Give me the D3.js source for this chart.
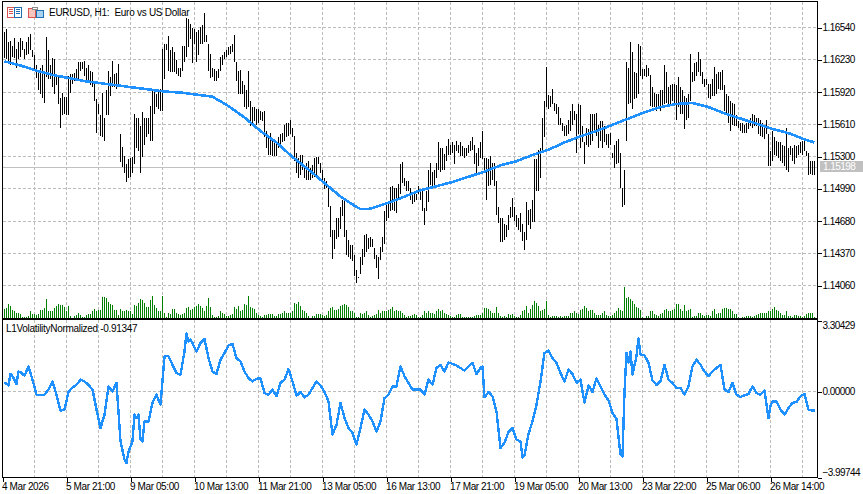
<!DOCTYPE html>
<html><head><meta charset="utf-8">
<style>
html,body{margin:0;padding:0;background:#fff}
svg{display:block}
text{font-family:"Liberation Sans",Arial,sans-serif;font-size:10px;fill:#000;white-space:pre}
.axis path,.axis line{stroke:#000;shape-rendering:crispEdges}
</style>
<script src="https://cdn.jsdelivr.net/npm/d3@7/dist/d3.min.js"></script>
</head><body><div id="c"></div>
<script>
// Prices in 1/10000 units
const priceTicks=[11654,11623,11592,11561,11530,11499,11468,11437,11406];
const lastPrice=1.15198;
const chartTitle="EURUSD, H1:  Euro vs US Dollar";
const indicatorTitle="L1VolatilityNormalized -0.91347";
const timeLabels=["4 Mar 2026","5 Mar 21:00","9 Mar 05:00","10 Mar 13:00","11 Mar 21:00","13 Mar 05:00","16 Mar 13:00","17 Mar 21:00","19 Mar 05:00","20 Mar 13:00","23 Mar 22:00","25 Mar 06:00","26 Mar 14:00"];
const timeTickBars=[-1,31,63,95,127,159,191,223,255,287,319,351,383];
const highsA=[11649,11652,11640,11641,11636,11643,11633,11640,11643,11641,11633,11640,11644,11647,11632,11627,11617,11611,11615,11617,11609,11644,11632,11617,11624,11623,11607,11607,11586,11591,11587,11587,11607,11609,11609,11610,11614,11620,11620,11620,11621,11615,11617,11612,11611,11599,11585,11580,11569,11591,11567,11593,11612,11606,11621,11609,11610,11618,11551,11539,11530,11522,11527,11528,11529,11570,11567,11567,11559,11572,11567,11567,11567,11578,11593,11594,11590,11594,11594,11633,11638,11638,11645,11632,11635,11630,11622,11615,11615,11636,11636,11663,11662,11657,11653,11652,11649,11651,11654,11656,11667,11646,11638,11628,11615,11614,11612,11614,11625,11627,11630,11632,11635,11636,11638,11646,11620,11612,11613,11602,11598,11593,11612,11583,11577,11577,11575,11575,11573,11572,11573,11554,11548,11552,11544,11544,11544,11548,11551,11552,11560,11562,11562];
const lowsA=[11624,11623,11619,11617,11625,11624,11615,11623,11625,11632,11623,11627,11628,11632,11625,11614,11605,11593,11590,11586,11581,11606,11604,11604,11596,11590,11598,11580,11557,11569,11570,11569,11569,11591,11599,11602,11602,11602,11612,11614,11607,11602,11602,11598,11596,11583,11552,11570,11549,11548,11544,11569,11569,11588,11596,11596,11594,11596,11524,11519,11514,11505,11509,11510,11514,11522,11538,11535,11514,11529,11541,11548,11551,11544,11544,11570,11577,11575,11573,11573,11604,11632,11612,11611,11611,11611,11609,11607,11606,11612,11620,11625,11635,11642,11619,11638,11620,11627,11638,11638,11640,11640,11612,11605,11606,11602,11602,11605,11612,11617,11623,11625,11627,11628,11630,11620,11602,11590,11590,11590,11577,11575,11577,11559,11560,11564,11560,11562,11565,11564,11548,11538,11531,11531,11530,11530,11530,11538,11541,11543,11544,11548,11549];
const highsB=[11565,11557,11549,11533,11528,11531,11531,11520,11523,11525,11518,11521,11528,11529,11529,11523,11517,11509,11506,11501,11482,11459,11459,11470,11470,11481,11488,11488,11459,11449,11444,11444,11435,11420,11414,11433,11441,11454,11455,11451,11452,11450,11442,11435,11433,11443,11452,11477,11483,11485,11500,11501,11499,11499,11503,11522,11524,11509,11506,11506,11499,11494,11493,11493,11501,11498,11498,11480,11496,11517,11523,11515,11517,11523,11543,11538,11538,11532,11540,11546,11541,11543,11541,11544,11541,11543,11540,11538,11538,11541,11544,11548,11541,11533,11538,11543,11554,11528,11528,11527,11530,11523,11523,11506,11481,11470,11470,11465,11464,11473,11481,11490,11481,11473,11470,11475,11465,11457,11486,11478,11479,11488,11527,11527,11536,11538,11567,11583,11616,11589,11588,11594,11581,11580,11577,11567,11562,11559,11560,11565];
const lowsB=[11551,11548,11525,11514,11509,11512,11517,11509,11507,11507,11507,11509,11510,11512,11522,11514,11504,11498,11499,11481,11452,11431,11441,11450,11452,11460,11472,11452,11435,11433,11431,11429,11415,11408,11413,11417,11425,11433,11438,11441,11443,11443,11431,11422,11412,11430,11438,11445,11468,11470,11477,11478,11477,11475,11489,11493,11504,11501,11496,11496,11488,11484,11486,11488,11493,11488,11477,11464,11477,11486,11502,11501,11502,11509,11517,11515,11517,11517,11525,11531,11531,11533,11522,11535,11533,11530,11530,11528,11530,11533,11535,11536,11522,11514,11520,11528,11527,11515,11488,11501,11502,11507,11501,11473,11466,11447,11447,11449,11452,11459,11470,11471,11468,11462,11459,11457,11448,11440,11449,11464,11460,11467,11467,11496,11496,11509,11536,11548,11577,11575,11577,11580,11573,11570,11560,11560,11554,11549,11549,11551];
const highsC=[11573,11580,11573,11570,11580,11579,11559,11543,11557,11556,11570,11570,11570,11571,11560,11564,11564,11559,11551,11551,11552,11533,11541,11544,11546,11533,11499,11517,11620,11615,11640,11630,11611,11610,11638,11636,11614,11614,11617,11615,11608,11596,11591,11590,11590,11593,11593,11617,11611,11596,11598,11599,11599,11598,11606,11596,11593,11588,11586,11590,11628,11611,11619,11620,11630,11623,11611,11604,11604,11599,11599,11604,11616,11609,11611,11611,11613,11598,11590,11588,11583,11581,11580,11569,11564,11562,11562,11560,11562,11565,11567,11570,11569,11567,11567,11565,11562,11559,11565,11551,11535,11554,11548,11544,11543,11543,11541,11540,11557,11538,11540,11538,11541,11540,11541,11543,11544,11544,11535,11533,11525,11525,11525];
const lowsC=[11554,11560,11565,11533,11551,11538,11543,11522,11541,11539,11541,11544,11554,11549,11538,11544,11538,11543,11541,11538,11541,11528,11518,11522,11523,11499,11481,11483,11544,11580,11581,11575,11585,11586,11590,11607,11604,11607,11606,11607,11578,11577,11577,11573,11575,11573,11577,11580,11581,11580,11580,11583,11581,11565,11577,11570,11570,11556,11565,11567,11583,11601,11602,11607,11611,11607,11599,11596,11598,11586,11585,11588,11588,11590,11594,11593,11593,11573,11570,11562,11554,11560,11559,11559,11557,11554,11552,11552,11552,11556,11559,11557,11559,11559,11551,11549,11548,11546,11551,11520,11520,11525,11531,11530,11528,11525,11523,11520,11517,11515,11531,11525,11522,11528,11531,11533,11531,11535,11530,11512,11513,11512,11512];
const volumeA=[25,30,42,36,24,18,13,13,10,3,1,3,6,18,12,12,9,12,24,24,30,57,21,18,21,30,36,42,39,39,33,21,36,6,0,6,9,15,9,3,3,9,12,12,18,27,21,24,24,63,63,60,48,42,39,24,24,9,27,21,21,24,21,18,12,39,36,45,57,54,45,33,33,54,66,39,30,21,18,66,15,3,15,12,27,27,15,12,9,12,15,30,33,24,27,33,36,42,36,30,21,36,60,33,9,3,3,6,18,15,12,6,6,9,12,33,27,36,21,24,42,39,66,33,30,27,15,9,6,3,9,9,12,12,12,6,6,12,12,15,18,15,15];
const volumeB=[15,21,45,42,48,36,24,18,15,6,0,6,6,12,12,12,9,6,9,18,30,33,24,24,27,36,39,42,39,33,21,18,15,3,3,15,12,15,18,9,3,6,9,12,24,15,18,21,21,24,27,33,21,24,21,21,15,9,3,6,6,9,12,9,3,3,9,18,15,21,15,15,12,21,27,21,24,15,12,9,6,3,3,9,12,12,3,3,3,3,3,3,6,9,9,9,15,30,30,27,21,15,15,33,15,6,3,6,3,12,9,12,6,3,3,9,21,24,36,15,27,39,51,45,36,21,24,27,51,9,3,6,6,6,3,6,3,6,6,6];
const volumeC=[15,15,18,15,12,24,27,36,30,21,24,24,15,9,9,9,15,18,9,6,6,9,15,21,30,24,21,93,60,63,57,51,42,33,30,24,3,0,6,6,18,18,12,9,6,12,15,24,27,18,18,24,27,42,42,27,18,39,21,24,27,3,6,6,15,15,9,6,9,9,6,18,27,12,15,15,27,30,30,27,27,21,12,12,3,0,3,3,6,6,6,3,6,9,12,15,15,15,15,18,21,27,33,24,21,15,9,9,21,6,6,3,9,9,6,6,3,6,12,15,15,15,3];
const maBars=[0,8,16,24,32,40,48,56,64,72,80,88,96,104,112,120,128,136,144,152,160,168,176,178,182,184,192,200,208,216,224,232,240,248,256,264,272,280,288,296,304,312,320,328,336,344,352,360,368,376,384,392,400,405];
const maValues=[11621,11617,11612,11608,11605,11602,11600,11598,11596,11594,11592,11591,11589,11587,11578,11567,11554,11543,11529,11517,11504,11491,11481,11479,11479,11480,11485,11491,11497,11501,11505,11510,11515,11521,11525,11531,11536,11543,11549,11554,11560,11566,11572,11577,11580,11581,11577,11571,11566,11561,11556,11552,11546,11543];
// indicator, hundredths, one reading every second bar
const volA=[40,26,69,33,88,71,115,53,-17,-17,-17,7,45,-17,-91,-86,-5,17,29,53,45,29,7,-86,-172,-110,22,-2,38,-234,-319,-281,-234,-126,-226,-141,-141,-55,-17,-64,162,162,122,84,76,184,231,223,184,223,243,153,91,79,146,177,212,219,153,138,91,60,45,57,60,-9,-17,7,-24,38,53,102];
const volB=[45,-22,-5,-29,-17,14,45,26,-5,-48,-203,-157,-55,-126,-172,-195,-250,-172,-86,-110,-141,-188,-141,-33,-17,22,22,115,69,38,7,7,7,-17,53,29,107,122,91,133,126,119,107,95,115,131,79,107,-29,-5,-24,-95,-265,-241,-191,-172,-226,-234,-299,-200,-141,-64,45,177,188,153,131,84,45,100];
const volC=[79,38,53,-55,26,-5,60,22,-17,-43,-102,-129,-296,-2,131,76,162,169,166,131,48,29,45,122,53,38,14,14,-17,22,115,146,122,91,69,91,107,122,7,-5,38,-17,-28,-20,-14,22,-9,-17,2,-126,-48,-48,-86,-110,-79,-55,-51,-24,-14,-86,-91];
// extra readings at odd bars where the line spikes
const spikeBars=[3,7,61,65,67,69,91,93,239,259,309,311,313,317,383,405];
const spikeValues=[79,91,-335,-110,-110,-234,267,239,115,-310,-304,177,184,246,-70,-91];
const indicatorTicks=[3.30429,0,-3.99744];

const highs=[...highsA,...highsB,...highsC], lows=[...lowsA,...lowsB,...lowsC];
const volumes=[...volumeA,...volumeB,...volumeC];
const indicator=[...volA,...volB,...volC].map((d,i)=>[i*2,d/100])
  .concat(spikeBars.map((b,i)=>[b,spikeValues[i]/100])).sort((a,b)=>a[0]-b[0]);

const W=863,H=494,L=2,R=817,T=1,MB=318,IT=320,IB=477;
const svg=d3.select("#c").append("svg").attr("width",W).attr("height",H).attr("viewBox",`0 0 ${W} ${H}`);
const x=d3.scaleLinear().domain([0,405]).range([4,814]);
const y=d3.scaleLinear().domain([11654,11406]).range([27,285]);
const yv=d3.scaleLinear().domain([0,93]).range([317.5,286.5]);
const yi=d3.scaleLinear().domain([3.30429,-3.99744]).range([320,477]);
const gridCol="#bcbcbc";

// vertical grid
const vgrid=d3.range(15,400,16);
const g=svg.append("g").attr("shape-rendering","crispEdges");
[[T+1,MB],[IT,IB]].forEach(([a,b])=>{
 g.selectAll(null).data(vgrid).join("line")
  .attr("x1",d=>x(d)+.5).attr("x2",d=>x(d)+.5).attr("y1",a).attr("y2",b)
  .attr("stroke",gridCol).attr("stroke-dasharray","3,2");
});
g.selectAll(null).data(priceTicks).join("line")
 .attr("x1",L+1).attr("x2",R).attr("y1",d=>Math.round(y(d))+.5).attr("y2",d=>Math.round(y(d))+.5)
 .attr("stroke",gridCol).attr("stroke-dasharray","3,2");
g.append("line").attr("x1",L+1).attr("x2",R).attr("y1",yi(0)+.5).attr("y2",yi(0)+.5).attr("stroke",gridCol).attr("stroke-dasharray","3,2");
// current price line
g.append("line").attr("x1",L+1).attr("x2",R).attr("y1",Math.round(y(lastPrice*1e4))+.5).attr("y2",Math.round(y(lastPrice*1e4))+.5).attr("stroke","#c0c0c0");

// volumes
svg.append("g").attr("shape-rendering","crispEdges").selectAll("rect").data(volumes).join("rect")
 .attr("x",(d,i)=>x(i)).attr("width",1).attr("y",d=>Math.round(yv(d))).attr("height",d=>Math.max(0,Math.round(yv(0))-Math.round(yv(d))))
 .attr("fill","#008000");
// bars
svg.append("g").attr("shape-rendering","crispEdges").selectAll("rect").data(highs).join("rect")
 .attr("x",(d,i)=>x(i)).attr("width",1).attr("y",d=>Math.round(y(d)))
 .attr("height",(d,i)=>Math.max(1,Math.round(y(lows[i]))-Math.round(y(d)))).attr("fill","#000");
// moving average
svg.append("path").datum(maValues).attr("fill","none").attr("stroke","#1e90ff").attr("stroke-width",2.6).attr("shape-rendering","crispEdges")
 .attr("d",d3.line().x((d,i)=>x(maBars[i])+.5).y(d=>y(d)));
// indicator
svg.append("path").datum(indicator).attr("fill","none").attr("stroke","#1e90ff").attr("stroke-width",2.4).attr("shape-rendering","crispEdges")
 .attr("stroke-linejoin","round")
 .attr("d",d3.line().x(d=>x(d[0])+.5).y(d=>yi(d[1])));

// frame
const f=svg.append("g").attr("shape-rendering","crispEdges").attr("fill","#000");
f.append("rect").attr("x",L).attr("y",T).attr("width",R-L+1).attr("height",1);
f.append("rect").attr("x",L).attr("y",T).attr("width",1).attr("height",IB-T+1);
f.append("rect").attr("x",R).attr("y",T).attr("width",1).attr("height",MB-T);
f.append("rect").attr("x",L).attr("y",MB).attr("width",R-L+1).attr("height",2);
f.append("rect").attr("x",R).attr("y",IT).attr("width",1).attr("height",IB-IT+1);
f.append("rect").attr("x",L).attr("y",IB).attr("width",R-L+1).attr("height",1);

// price axis
const fmt5=d3.format(".5f");
const pa=svg.append("g").attr("class","axis").attr("transform",`translate(${R+.5},0.5)`)
 .call(d3.axisRight(y).tickValues(priceTicks).tickSize(4).tickPadding(1).tickFormat(d=>fmt5(d/1e4)));
pa.select(".domain").remove();
pa.selectAll("text").attr("letter-spacing","-0.55").attr("dy",".32em");
// indicator axis
const ia=svg.append("g").attr("class","axis").attr("transform",`translate(${R+.5},0.5)`)
 .call(d3.axisRight(yi).tickValues(indicatorTicks).tickSize(4).tickPadding(1).tickFormat(fmt5));
ia.select(".domain").remove();
ia.selectAll("text").attr("letter-spacing","-0.55").attr("dy",".32em")
 .attr("y",d=>d>3?5:(d<-3?-5:0));
// time axis
const ta=svg.append("g").attr("class","axis").attr("transform",`translate(0.5,${IB+.5})`)
 .call(d3.axisBottom(x).tickValues(timeTickBars).tickSize(4).tickPadding(2).tickFormat((d,i)=>timeLabels[i]));
ta.select(".domain").remove();
ta.selectAll("text").attr("text-anchor","start").attr("x",-1).attr("y",9).attr("dy",".32em").attr("letter-spacing","-0.4");

// last price tag
svg.append("rect").attr("x",820).attr("y",161).attr("width",43).attr("height",11).attr("fill","#c0c0c0");
svg.append("text").attr("x",823).attr("y",170).attr("letter-spacing","-0.55").style("fill","#fff").text(lastPrice.toFixed(5));

// titles
svg.append("text").attr("x",49).attr("y",16).attr("letter-spacing","-0.27").text(chartTitle);
svg.append("text").attr("x",6).attr("y",332).attr("letter-spacing","-0.3").text(indicatorTitle);

// icons
const ic=svg.append("g").attr("shape-rendering","crispEdges");
const box=(x0,y0,w,h,s,fl)=>ic.append("rect").attr("x",x0+.5).attr("y",y0+.5).attr("width",w).attr("height",h).attr("stroke",s).attr("fill",fl||"#fff");
box(7,7,7,10,"#d9534f");box(14,7,7,10,"#1f6fb5");
[9.5,11.5,13.5].forEach(v=>{ic.append("line").attr("x1",9).attr("x2",13).attr("y1",v).attr("y2",v).attr("stroke","#d9534f");ic.append("line").attr("x1",16).attr("x2",20).attr("y1",v).attr("y2",v).attr("stroke","#1f6fb5");});
box(28,8,7,9,"#d9534f","#f6c5bd");box(36,10,7,7,"#1f6fb5","#a9d3ee");box(32,7,5,2,"#8a8a8a","#fff");
</script></body></html>
